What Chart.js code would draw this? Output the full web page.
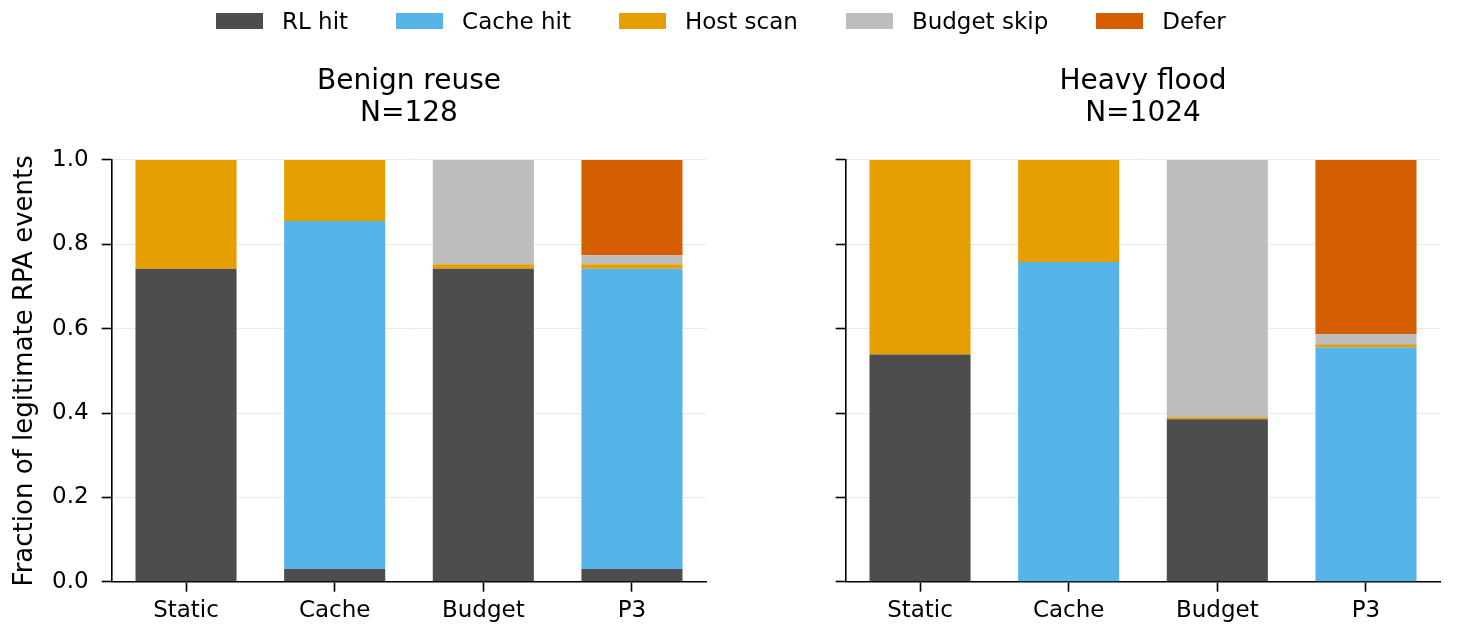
<!DOCTYPE html>
<html>
<head>
<meta charset="utf-8">
<script src="https://cdn.jsdelivr.net/npm/chart.js@4"></script>
<style>
  body { margin: 0; background: #fff; }
  #wrap { position: relative; width: 1458px; height: 636px; font-family: "DejaVu Sans", sans-serif; }
  canvas { position: absolute; top: 0; }
  #left { left: 0; }
  #right { left: 729px; }
  #legend { position: absolute; top: 0; left: 216px; height: 42px; display: flex; align-items: center; z-index: 2; }
  .item { display: flex; align-items: center; margin-right: 48px; font-size: 23px; color: #000; }
  .item:last-child { margin-right: 0; }
  .swatch { width: 47px; height: 16px; margin-right: 19px; }
</style>
</head>
<body>
<div id="wrap">
  <div id="legend"></div>
  <canvas id="left" width="729" height="636"></canvas>
  <canvas id="right" width="729" height="636"></canvas>
</div>
<script>
const categories = ["Static", "Cache", "Budget", "P3"];
const seriesNames = ["RL hit", "Cache hit", "Host scan", "Budget skip", "Defer"];
const seriesColors = ["#4d4d4d", "#56b4e9", "#e69f00", "#bdbdbd", "#d55e00"];
const yTicks = [0, 0.2, 0.4, 0.6, 0.8, 1.0];

// Benign reuse, N=128
const rlHitBenign = [0.742, 0.030, 0.742, 0.030];
const cacheHitBenign = [0, 0.825, 0, 0.712];
const hostScanBenign = [0.258, 0.145, 0.011, 0.011];
const budgetSkipBenign = [0, 0, 0.247, 0.021];
const deferBenign = [0, 0, 0, 0.226];

// Heavy flood, N=1024
const rlHitFlood = [0.539, 0, 0.385, 0];
const cacheHitFlood = [0, 0.758, 0, 0.556];
const hostScanFlood = [0.461, 0.242, 0.005, 0.007];
const budgetSkipFlood = [0, 0, 0.610, 0.024];
const deferFlood = [0, 0, 0, 0.413];

Chart.defaults.font.family = "'DejaVu Sans', sans-serif";
Chart.defaults.color = "#000";

// html legend
const legend = document.getElementById("legend");
seriesNames.forEach((name, i) => {
    const item = document.createElement("div");
    item.classList.add("item");
    const sw = document.createElement("span");
    sw.classList.add("swatch");
    sw.style.background = seriesColors[i];
    const label = document.createElement("span");
    label.textContent = name;
    item.appendChild(sw);
    item.appendChild(label);
    legend.appendChild(item);
});

const makeChart = (canvasId, title, seriesData, yWidth, padRight, showYLabels) => {
    const datasets = seriesData.map((values, i) => ({
        label: seriesNames[i],
        data: values,
        backgroundColor: seriesColors[i],
        borderWidth: 0,
        categoryPercentage: 1.0,
        barPercentage: 0.68
    }));

    const yAxis = {
        stacked: true,
        min: 0,
        max: 1,
        z: 1,
        afterBuildTicks: (scale) => {
            scale.ticks = yTicks.map(v => ({ value: v }));
        },
        afterFit: (scale) => { scale.width = yWidth; },
        ticks: {
            display: showYLabels,
            font: { size: 23 },
            padding: 13,
            callback: (v) => v.toFixed(1)
        },
        grid: {
            color: "rgba(215,215,230,0.55)",
            lineWidth: 1,
            tickColor: "#000",
            tickWidth: 1.6,
            tickLength: 10
        },
        border: { color: "#000", width: 1.6 },
        title: {
            display: showYLabels,
            text: "Fraction of legitimate RPA events",
            font: { size: 26 },
            padding: { top: 10, bottom: 0 }
        }
    };

    return new Chart(document.getElementById(canvasId), {
        type: "bar",
        data: { labels: categories, datasets: datasets },
        options: {
            responsive: false,
            animation: false,
            devicePixelRatio: 1,
            layout: { padding: { top: 65, left: 0, right: padRight, bottom: 0 } },
            plugins: {
                legend: { display: false },
                tooltip: { enabled: false },
                title: {
                    display: true,
                    fullSize: false,
                    text: title,
                    font: { size: 28, weight: "normal", lineHeight: 1.16 },
                    padding: { top: 0, bottom: 30 },
                    color: "#000"
                }
            },
            scales: {
                x: {
                    stacked: true,
                    afterFit: (scale) => { scale.height = 54.3; },
                    ticks: { font: { size: 23 }, padding: 6 },
                    grid: {
                        offset: false,
                        drawOnChartArea: false,
                        drawTicks: true,
                        tickLength: 10,
                        tickColor: "#000",
                        tickWidth: 1.6
                    },
                    border: { color: "#000", width: 1.6 }
                },
                y: yAxis
            }
        }
    });
};

makeChart("left", ["Benign reuse", "N=128"],
    [rlHitBenign, cacheHitBenign, hostScanBenign, budgetSkipBenign, deferBenign],
    111.7, 22.7, true);

makeChart("right", ["Heavy flood", "N=1024"],
    [rlHitFlood, cacheHitFlood, hostScanFlood, budgetSkipFlood, deferFlood],
    116.7, 17.7, false);
</script>
</body>
</html>
